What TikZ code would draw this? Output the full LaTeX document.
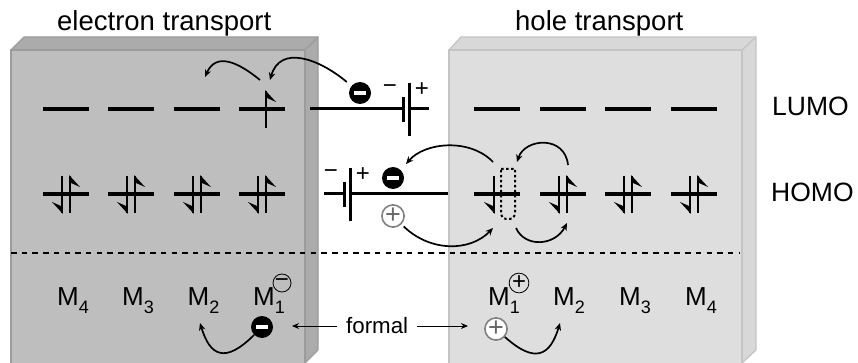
\documentclass[tikz,border=0pt]{standalone}
\usepackage{fontspec}
\setmainfont{Liberation Sans}
\usetikzlibrary{arrows.meta}
\definecolor{darkface}{HTML}{BEBEBE}
\definecolor{darkside}{HTML}{ABABAB}
\definecolor{darkedge}{HTML}{9C9C9C}
\definecolor{paleface}{HTML}{DEDEDE}
\definecolor{paleside}{HTML}{D8D8D8}
\definecolor{paleedge}{HTML}{C4C4C4}
\tikzstyle{level} = [fill=black, inner sep=0pt, minimum width=46pt, minimum height=3.3pt]
\tikzstyle{wire} = [line width=3pt]
\tikzstyle{hop} = [line width=1.7pt, -{Stealth[length=7.5pt,width=6.5pt]}]
\tikzstyle{thin arrow} = [line width=1pt, -{Stealth[length=7pt,width=6pt]}]
\tikzstyle{title} = [font=\fontsize{27.5}{30}\selectfont, inner sep=0pt, anchor=base west]
\tikzstyle{sign} = [font=\fontsize{24}{24}\selectfont, inner sep=0pt]
\tikzstyle{electron} = [circle, fill=black, inner sep=0pt, minimum size=22pt]
\tikzstyle{hole} = [circle, draw=black!50, line width=1.6pt, fill=white, inner sep=0pt, minimum size=20pt, font=\fontsize{27}{27}\selectfont, text=black!60]
\tikzstyle{formal} = [circle, draw=black, line width=0.8pt, inner sep=0pt, minimum size=18pt, font=\fontsize{24}{24}\selectfont]
\newcommand{\emark}{\textcolor{white}{\rule{12pt}{4pt}}}
\newcommand{\msub}[1]{M\raisebox{-8pt}{\fontsize{18}{18}\selectfont #1}}
\newcommand{\spinup}[1]{%
	\draw [line width=2pt] ([xshift=4pt,yshift=18pt]#1.center) -- ([xshift=4pt,yshift=-19pt]#1.center);
	\fill ([xshift=3pt,yshift=19pt]#1.center) -- ([xshift=14pt,yshift=7pt]#1.center) -- ([xshift=5pt,yshift=11pt]#1.center) -- cycle;}
\newcommand{\spindown}[2]{%
	\draw [line width=2pt] ([xshift=#2,yshift=18pt]#1.center) -- ([xshift=#2,yshift=-19pt]#1.center);
	\fill ([xshift=#2+1pt,yshift=-20pt]#1.center) -- ([xshift=#2-10pt,yshift=-8pt]#1.center) -- ([xshift=#2-1pt,yshift=-12pt]#1.center) -- cycle;}

\begin{document}
\begin{tikzpicture}[x=1pt,y=-1pt]
	\useasboundingbox (0,0) rectangle (858,363);

	\fill [darkside] (11,50) -- (24,37) -- (318,37) -- (318,350) -- (305,363) -- (305,50) -- cycle;
	\draw [darkedge, line width=1.3pt] (11,50) -- (24,37) -- (318,37) -- (318,350) -- (305,363);
	\draw [darkedge, line width=1.3pt] (318,37) -- (305,50);
	\draw [darkedge, line width=1.6pt, fill=darkface] (11,363) -- (11,50) -- (305,50) -- (305,363);

	\fill [paleside] (449,50) -- (461,37) -- (756,37) -- (756,350) -- (742,363) -- (742,50) -- cycle;
	\draw [paleedge, line width=1.3pt] (449,50) -- (461,37) -- (756,37) -- (756,350) -- (742,363);
	\draw [paleedge, line width=1.3pt] (756,37) -- (742,50);
	\draw [paleedge, line width=1.6pt, fill=paleface] (449,363) -- (449,50) -- (742,50) -- (742,363);

	\node (etitle) at (57,31) [title] {electron transport};
	\node (htitle) at (515,31) [title] {hole transport};
	\node (lumo) at (772,116) [title, font=\fontsize{26.5}{30}\selectfont] {LUMO};
	\node (homo) at (771,202) [title, font=\fontsize{26.5}{30}\selectfont] {HOMO};

	\node (la) at (66,109) [level] {};
	\node (lb) at (131,109) [level] {};
	\node (lc) at (197,109) [level] {};
	\node (ld) at (262,109) [level] {};
	\node (le) at (497,109) [level] {};
	\node (lf) at (563,109) [level] {};
	\node (lg) at (628,109) [level] {};
	\node (lh) at (694,109) [level] {};

	\node (ha) at (66,194) [level] {};
	\node (hb) at (131,194) [level] {};
	\node (hc) at (197,194) [level] {};
	\node (hd) at (262,194) [level] {};
	\node (he) at (497,194) [level] {};
	\node (hf) at (563,194) [level] {};
	\node (hg) at (628,194) [level] {};
	\node (hh) at (694,194) [level] {};

	\spinup{ld}
	\spindown{ha}{-4pt}
	\spinup{ha}
	\spindown{hb}{-4pt}
	\spinup{hb}
	\spindown{hc}{-4pt}
	\spinup{hc}
	\spindown{hd}{-4pt}
	\spinup{hd}
	\spindown{he}{-3pt}
	\spindown{hf}{-4pt}
	\spinup{hf}
	\spindown{hg}{-4pt}
	\spinup{hg}
	\spindown{hh}{-4pt}
	\spinup{hh}

	\draw [line width=2pt, dash pattern=on 2.5pt off 2.5pt] (501,169) -- (515,169) [rounded corners=5pt] -- (515,219) -- (501,219) [sharp corners] -- cycle;

	\coordinate (topwire) at (310,109);
	\coordinate (topshort) at (403,109);
	\coordinate (toplong) at (409,109);
	\coordinate (topend) at (429,109);
	\draw [wire] (topwire) -- (topshort);
	\draw [wire] (toplong) -- (topend);
	\draw [wire] (403,97) -- (403,122);
	\draw [wire] (409,83) -- (409,136);
	\node (tminus) at (390,89) [sign] {−};
	\node (tplus) at (422,90) [sign] {+};

	\coordinate (lowend) at (324,194);
	\coordinate (lowshort) at (344,194);
	\coordinate (lowlong) at (350,194);
	\coordinate (lowwire) at (448,194);
	\draw [wire] (lowend) -- (lowshort);
	\draw [wire] (lowlong) -- (lowwire);
	\draw [wire] (344,182) -- (344,207);
	\draw [wire] (350,168) -- (350,221);
	\node (bminus) at (331,174) [sign] {−};
	\node (bplus) at (363,175) [sign] {+};

	\draw [line width=1.6pt, dash pattern=on 5.5pt off 5.2pt] (11,253) -- (739,253);

	\node (ma) at (57,305) [title, font=\fontsize{26}{30}\selectfont] {\msub{4}};
	\node (mb) at (122,305) [title, font=\fontsize{26}{30}\selectfont] {\msub{3}};
	\node (mc) at (187.5,305) [title, font=\fontsize{26}{30}\selectfont] {\msub{2}};
	\node (md) at (253,305) [title, font=\fontsize{26}{30}\selectfont] {\msub{1}};
	\node (me) at (488,305) [title, font=\fontsize{26}{30}\selectfont] {\msub{1}};
	\node (mf) at (553,305) [title, font=\fontsize{26}{30}\selectfont] {\msub{2}};
	\node (mg) at (619,305) [title, font=\fontsize{26}{30}\selectfont] {\msub{3}};
	\node (mh) at (685,305) [title, font=\fontsize{26}{30}\selectfont] {\msub{4}};
	\node (fminus) at (282,283) [formal] {−};
	\node (fplus) at (519,283) [formal] {+};

	\node (ea) at (360,93) [electron] {\emark};
	\node (eb) at (393,178) [electron] {\emark};
	\node (ec) at (262,327) [electron] {\emark};
	\node (pa) at (393,216) [hole] {+};
	\node (pb) at (496,329) [hole] {+};
	\node (formal) at (346,333) [title, font=\fontsize{22.3}{26}\selectfont] {formal};

	\coordinate (fromd) at (260,80);
	\coordinate (toc) at (205,77);
	\coordinate (tod) at (270,80);
	\coordinate (frome) at (493,162);
	\coordinate (fromf) at (568,165);
	\coordinate (toe) at (517,162);
	\coordinate (toeb) at (406,164);
	\coordinate (frome2) at (516,228);
	\coordinate (tolowe) at (493,228);
	\coordinate (tolowf) at (567,223);
	\coordinate (tomc) at (200,323);
	\coordinate (tomf) at (560,323);
	\coordinate (formalL) at (337,326);
	\coordinate (formalR) at (417,326);
	\coordinate (tipL) at (292,326);
	\coordinate (tipR) at (468,326);

	\draw [hop] (fromd) .. controls (238,62) and (216,52) .. (toc);
	\draw [hop, shorten <=6pt] (ea) .. controls (318,58) and (280,45) .. (tod);
	\draw [hop] (frome) .. controls (470,138) and (425,142) .. (toeb);
	\draw [hop] (fromf) .. controls (565,135) and (525,138) .. (toe);
	\draw [hop, shorten <=3pt] (pa) .. controls (430,252) and (470,252) .. (tolowe);
	\draw [hop] (frome2) .. controls (525,248) and (555,246) .. (tolowf);
	\draw [hop] (ec) .. controls (225,364) and (210,356) .. (tomc);
	\draw [hop] (pb) .. controls (535,364) and (550,356) .. (tomf);
	\draw [thin arrow] (formalL) -- (tipL);
	\draw [thin arrow] (formalR) -- (tipR);
\end{tikzpicture}
\end{document}
